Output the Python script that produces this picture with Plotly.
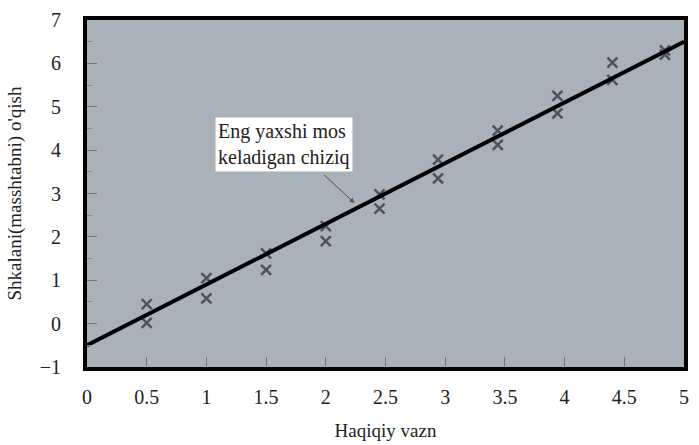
import plotly.graph_objects as go

# data
x_pos = [0.5, 0.5, 1.0, 1.0, 1.5, 1.5, 2.0, 2.0, 2.45, 2.45, 2.94, 2.94, 3.44, 3.44, 3.94, 3.94, 4.4, 4.4, 4.84, 4.84]
y_read = [0.45, 0.02, 1.05, 0.58, 1.62, 1.24, 2.25, 1.9, 2.98, 2.65, 3.78, 3.35, 4.45, 4.12, 5.25, 4.85, 6.02, 5.62, 6.3, 6.2]
fit_x = [0, 5]
fit_y = [-0.5, 6.5]
x_ticks = [0, 0.5, 1, 1.5, 2, 2.5, 3, 3.5, 4, 4.5, 5]
x_labels = ["0", "0.5", "1", "1.5", "2", "2.5", "3", "3.5", "4", "4.5", "5"]
y_ticks = [-1, 0, 1, 2, 3, 4, 5, 6, 7]
annot_text = "Eng yaxshi mos<br>keladigan chiziq"
x_title = "Haqiqiy vazn"
y_title = "Shkalani(masshtabni) o'qish"

FONT = "Liberation Serif"

fig = go.Figure()
fig.add_trace(go.Scatter(
    x=x_pos, y=y_read, mode="markers",
    marker=dict(symbol="x-thin", size=10, line=dict(width=2.5, color="#4d545c")),
    showlegend=False, hoverinfo="skip"))
fig.add_trace(go.Scatter(
    x=fit_x, y=fit_y, mode="lines",
    line=dict(color="black", width=4),
    showlegend=False, hoverinfo="skip"))

fig.add_annotation(x=1.65, y=4.13, xref="x", yref="y", text=annot_text,
                   showarrow=False, bgcolor="white", align="left",
                   font=dict(family=FONT, size=20, color="#222"),
                   borderpad=2)
fig.add_annotation(x=2.24, y=2.78, ax=1.97, ay=3.47, xref="x", yref="y",
                   axref="x", ayref="y", text="", showarrow=True,
                   arrowhead=2, arrowsize=1, arrowwidth=1, arrowcolor="#555")

fig.update_layout(
    width=699, height=445,
    margin=dict(l=87, r=15, t=20, b=78),
    paper_bgcolor="white", plot_bgcolor="#a9b1b9",
    font=dict(family=FONT, size=20, color="#222"),
    showlegend=False,
)
fig.update_xaxes(range=[0, 5], tickvals=x_ticks, ticktext=x_labels,
                 tickfont=dict(family=FONT, size=20), automargin=False,
                 showgrid=False, zeroline=False, showline=True, mirror=True,
                 linecolor="black", linewidth=4,
                 ticks="inside", ticklen=10, tickcolor="#777", tickwidth=1,
                 ticklabelstandoff=9,
                 title=dict(text=x_title, font=dict(family=FONT, size=19), standoff=18))
fig.update_yaxes(range=[-1, 7], tickvals=y_ticks,
                 tickfont=dict(family=FONT, size=20), automargin=False,
                 showgrid=False, zeroline=False, showline=True, mirror=True,
                 linecolor="black", linewidth=4,
                 ticks="inside", ticklen=10, tickcolor="#777", tickwidth=1,
                 ticklabelstandoff=18,
                 minor=dict(ticks="inside", ticklen=5, tickcolor="#888", dtick=0.5),
                 title=dict(text=y_title, font=dict(family=FONT, size=19), standoff=14))

fig.write_html("out.html")
